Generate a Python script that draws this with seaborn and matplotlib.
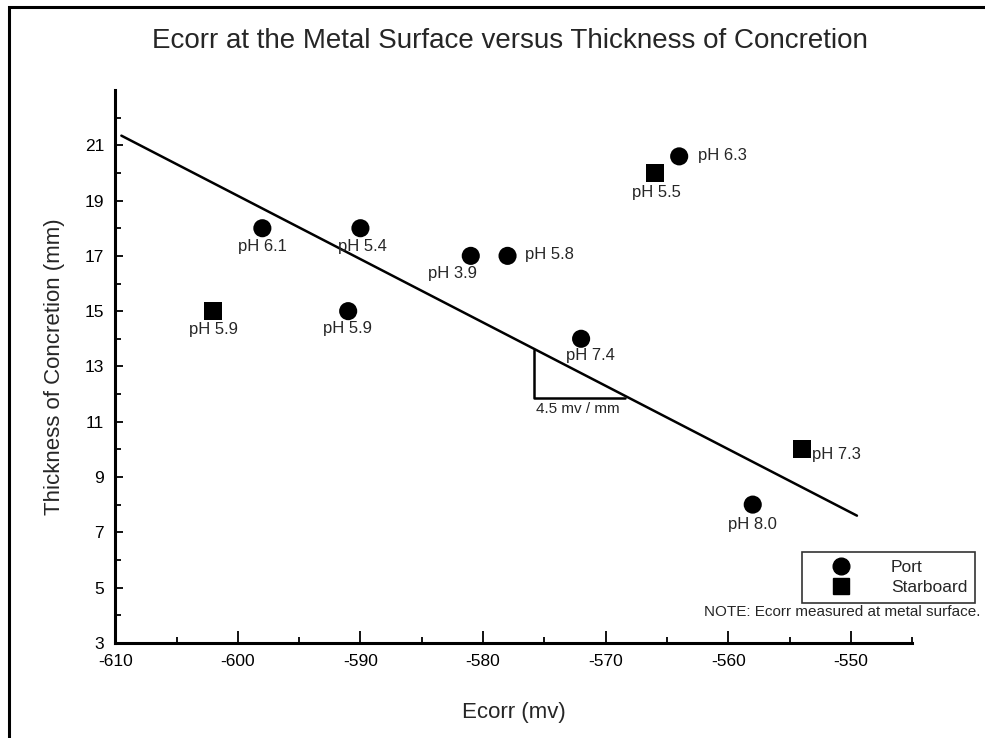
import matplotlib
matplotlib.use("Agg")
import matplotlib.pyplot as plt
import seaborn as sns
import pandas as pd
from matplotlib.lines import Line2D
from matplotlib.patches import Rectangle

# ---- data ----
port_ecorr = [-598, -590, -591, -581, -578, -572, -564, -558]
port_thick = [18, 18, 15, 17, 17, 14, 20.6, 8]
port_labels = ["pH 6.1", "pH 5.4", "pH 5.9", "pH 3.9", "pH 5.8", "pH 7.4", "pH 6.3", "pH 8.0"]

star_ecorr = [-602, -566, -554]
star_thick = [15, 20, 10]
star_labels = ["pH 5.9", "pH 5.5", "pH 7.3"]

fit_ecorr = [-609.5, -549.5]
fit_thick = [21.35, 7.6]

slope_ecorr = [-575.85, -575.85, -568.4]
slope_thick = [13.6, 11.85, 11.85]
slope_text = "4.5 mv / mm"

x_ticks = [-610, -600, -590, -580, -570, -560, -550]
y_ticks = [3, 5, 7, 9, 11, 13, 15, 17, 19, 21]

# label placement (offset pixels, ha)
port_off = [((0, -18), "center"), ((2, -18), "center"), ((-1, -17), "center"),
            ((-18, -18), "center"), ((17, 1), "left"), ((9, -17), "center"),
            ((19, 1), "left"), ((0, -20), "center")]
star_off = [((0, -18), "center"), ((2, -20), "center"), ((10, -5), "left")]

df = pd.DataFrame({
    "Ecorr": port_ecorr + star_ecorr,
    "Thickness": port_thick + star_thick,
    "Side": ["Port"] * len(port_ecorr) + ["Starboard"] * len(star_ecorr),
})

sns.set_theme(style="ticks")
plt.rcParams["font.family"] = ["Liberation Sans", "DejaVu Sans"]
plt.rcParams["axes.unicode_minus"] = False

fig = plt.figure(figsize=(9.85, 7.38), dpi=100)
ax = fig.add_axes([0.117, 0.129, 0.809, 0.749])

sns.scatterplot(data=df, x="Ecorr", y="Thickness", style="Side",
                markers={"Port": "o", "Starboard": "s"}, color="black",
                s=170, linewidth=0, ax=ax, legend=False, zorder=3)
sns.lineplot(x=fit_ecorr, y=fit_thick, color="black", linewidth=1.8, ax=ax,
             sort=False, estimator=None)
ax.plot(slope_ecorr, slope_thick, color="black", linewidth=1.8)
ax.text(-572.3, 11.45, slope_text, ha="center", va="center", fontsize=11)

for x, y, lab, (off, ha) in zip(port_ecorr, port_thick, port_labels, port_off):
    ax.annotate(lab, (x, y), xytext=off, textcoords="offset pixels",
                ha=ha, va="center", fontsize=12)
for x, y, lab, (off, ha) in zip(star_ecorr, star_thick, star_labels, star_off):
    ax.annotate(lab, (x, y), xytext=off, textcoords="offset pixels",
                ha=ha, va="center", fontsize=12)

ax.set_xlim(-610, -545)
ax.set_ylim(3, 23)
ax.set_xticks(x_ticks)
ax.set_yticks(y_ticks)
ax.set_xticks([v + 5 for v in x_ticks], minor=True)
ax.set_yticks([v + 1 for v in y_ticks], minor=True)
ax.tick_params(axis="both", which="both", direction="in", colors="black",
               labelsize=12.5, width=1.3)
ax.tick_params(axis="x", which="major", length=9, pad=8)
ax.tick_params(axis="x", which="minor", length=4)
ax.tick_params(axis="y", which="major", length=6, pad=8)
ax.tick_params(axis="y", which="minor", length=4)
for side in ("top", "right"):
    ax.spines[side].set_visible(False)
for side in ("left", "bottom"):
    ax.spines[side].set_linewidth(2.2)
    ax.spines[side].set_color("black")

ax.set_xlabel("Ecorr (mv)", fontsize=16, labelpad=24)
ax.set_ylabel("Thickness of Concretion (mm)", fontsize=16, labelpad=14)
fig.text(0.518, 0.945, "Ecorr at the Metal Surface versus Thickness of Concretion",
         ha="center", va="center", fontsize=20)

handles = [Line2D([], [], marker="o", color="black", linestyle="none", markersize=12),
           Line2D([], [], marker="s", color="black", linestyle="none", markersize=12)]
leg = fig.legend(handles, ["Port", "Starboard"], loc="upper right",
                 bbox_to_anchor=(0.990, 0.252), frameon=True, fancybox=False,
                 edgecolor="black", fontsize=12.5, handletextpad=1.1,
                 borderpad=0.45, labelspacing=0.3, handlelength=3.6,
                 borderaxespad=0)
leg.get_frame().set_linewidth(1.2)

fig.text(0.995, 0.171, "NOTE: Ecorr measured at metal surface.", ha="right",
         va="center", fontsize=11)

fig.patches.append(Rectangle((9 / 985, -0.05), 1.2, 1 - 7 / 738 + 0.05,
                             transform=fig.transFigure, fill=False,
                             edgecolor="black", linewidth=2.2))

fig.savefig("out.png", dpi=100)
